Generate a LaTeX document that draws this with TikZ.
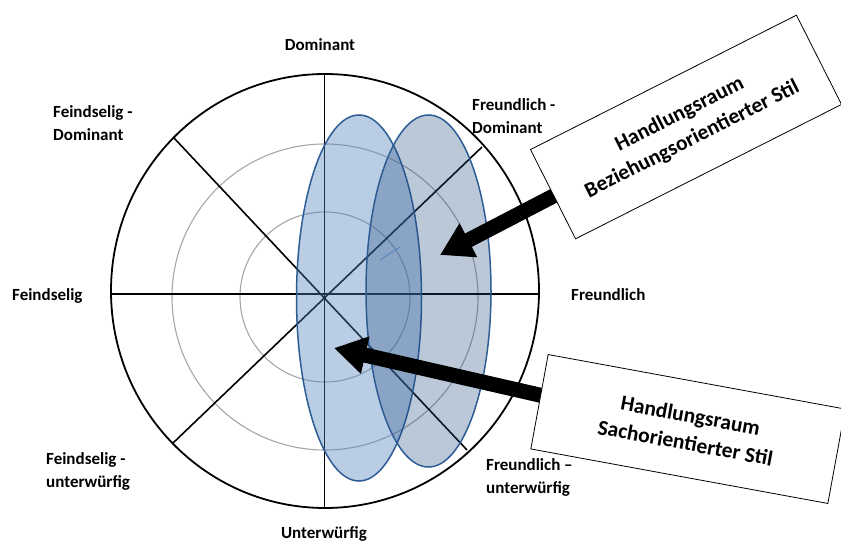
\documentclass[tikz,border=0pt]{standalone}
\usepackage{fontspec}
\setmainfont{Carlito}
\usetikzlibrary{arrows.meta}
\definecolor{ringgray}{HTML}{A6A6A6}
\definecolor{fillA}{HTML}{4F81BD}
\definecolor{fillB}{HTML}{1F497D}
\definecolor{edgeblue}{HTML}{2E5C94}
\pgfdeclarelayer{front}
\pgfsetlayers{main,front}
\begin{document}
\begin{tikzpicture}[x=1pt,y=-1pt,
  lbl/.style={font=\fontsize{17}{23}\selectfont\bfseries, align=left, inner sep=0pt},
  spoke/.style={line width=1.6pt, black},
  ring/.style={line width=1.1pt, ringgray},
  zoneA/.style={fill=fillA, fill opacity=0.4, draw=edgeblue, line width=1.5pt},
  zoneB/.style={fill=fillB, fill opacity=0.3, draw=edgeblue, line width=1.5pt},
  callout/.style={draw=black, line width=0.8pt, fill=white, align=center,
    font=\fontsize{21.5}{28}\selectfont\bfseries, inner sep=0pt},
  bigarrow/.style={line width=15pt, black, -{Triangle[length=32pt,width=36pt]}}]
\useasboundingbox (0,0) rectangle (841,545);

% outer circle and inner rings
\draw[line width=1.8pt] (325,291) ellipse [x radius=214, y radius=217];
\draw[ring] (325,297) circle [radius=85];
\draw[ring] (325,297) circle [radius=153];

% spokes
\coordinate (W) at (111,294);   \coordinate (E) at (539,294);
\coordinate (N) at (324.5,74);  \coordinate (S) at (324.5,508);
\coordinate (NW) at (174,138);  \coordinate (SE) at (467,450);
\coordinate (NE) at (482,147);  \coordinate (SW) at (172.7,443.3);
\draw[spoke] (W) -- (E);
\draw[spoke] (N) -- (S);
\draw[spoke] (NW) -- (SE);
\draw[spoke] (NE) -- (SW);

% action zones
\draw[zoneA] (359,298) ellipse [x radius=62.5, y radius=183];
\draw[zoneB] (428.5,291) ellipse [x radius=62.5, y radius=176];
\draw[fillA, line width=0.8pt] (380,260) -- (400,247);

% axis labels
\node[lbl, anchor=center] (dom) at (320,45) {Dominant};
\node[lbl, anchor=west] (fd) at (53,123) {Feindselig -\\Dominant};
\node[lbl, anchor=west] (frd) at (472,116) {Freundlich -\\Dominant};
\node[lbl, anchor=west] (fs) at (12,296) {Feindselig};
\node[lbl, anchor=west] (fr) at (571,295) {Freundlich};
\node[lbl, anchor=west] (fu) at (46,471) {Feindselig -\\unterwürfig};
\node[lbl, anchor=west] (fru) at (486,477) {Freundlich –\\unterwürfig};
\node[lbl, anchor=center] (unt) at (324,534) {Unterwürfig};

% callout boxes
\begin{pgfonlayer}{front}
\node[callout, rotate=26.8, minimum width=298pt, minimum height=100pt] (upbox) at (686,127)
  {Handlungsraum\\Beziehungsorientierter Stil};
\node[callout, rotate=-10.4, minimum width=302pt, minimum height=96pt] (lowbox) at (688,429)
  {Handlungsraum\\Sachorientierter Stil};
\end{pgfonlayer}

% arrows from the boxes into the zones
\coordinate (tipA) at (440,255);
\coordinate (tipB) at (334,348);
\draw[bigarrow] (upbox.center) -- (tipA);
\draw[bigarrow] (lowbox.center) -- (tipB);
\end{tikzpicture}
\end{document}
